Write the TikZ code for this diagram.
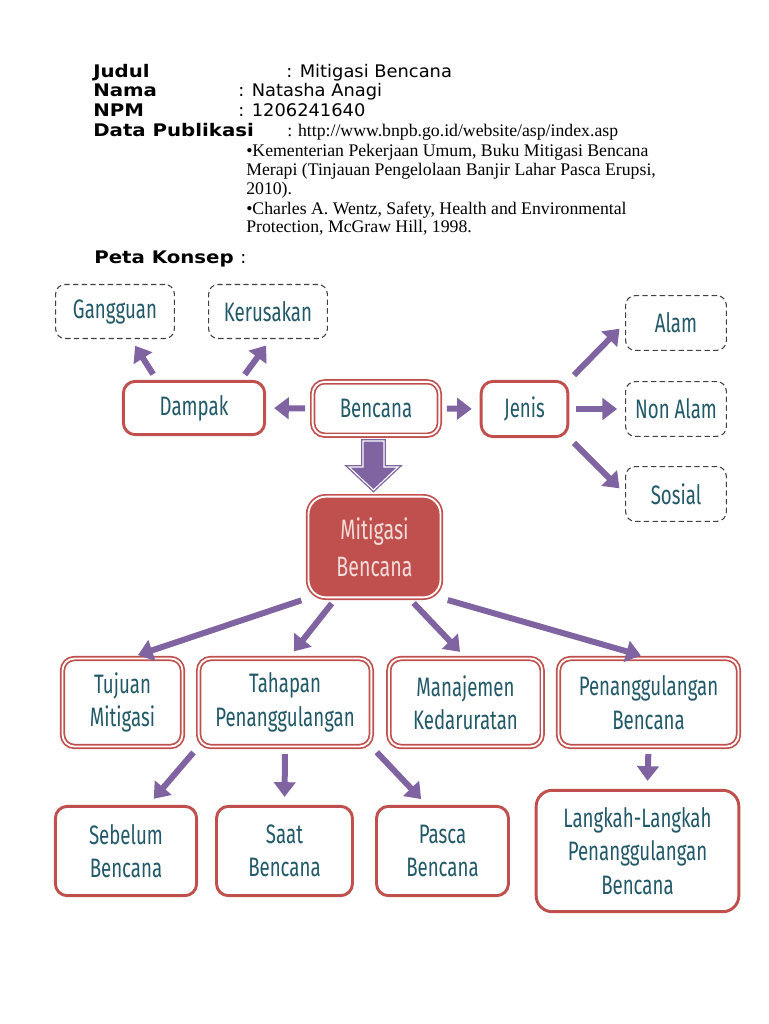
\documentclass[tikz,border=0pt]{standalone}
\usepackage{fontspec}
\setmainfont{Liberation Serif}
\newfontfamily\headfont[FakeStretch=1.03, BoldFeatures={FakeStretch=1.14}]{DejaVu Sans}
\newfontfamily\handfont[FakeStretch=0.7]{Fira Sans}
\usetikzlibrary{arrows.meta}
\definecolor{merah}{HTML}{C0504D}
\definecolor{ungu}{HTML}{8064A2}
\definecolor{teks}{HTML}{215968}
\definecolor{pinkteks}{HTML}{F2DCDB}
\tikzset{
  kotak/.style={draw=merah, line width=2.2pt, rounded corners=9pt, fill=white,
    align=center, inner sep=0pt, text=teks,
    font=\handfont\fontsize{20}{25}\selectfont},
  kotakganda/.style={kotak, line width=1.3pt, double=white, double distance=1.4pt},
  putus/.style={draw=black!75, dash pattern=on 4pt off 2.5pt, line width=0.8pt,
    rounded corners=7pt, align=center, inner sep=0pt, text=teks,
    font=\handfont\fontsize{20}{25}\selectfont},
  panah/.style={ungu, line width=4.5pt, -{Triangle[length=11pt,width=16pt]},
    shorten <=5pt, shorten >=6pt},
  blok/.style={fill=ungu, draw=ungu, line width=1pt, double=white, double distance=0.8pt},
  kepala/.style={anchor=base west, inner sep=0pt, font=\headfont\fontsize{13}{15}\selectfont},
  pustaka/.style={anchor=base west, inner sep=0pt, font=\fontsize{13.3}{14.25}\selectfont}
}

\begin{document}
\begin{tikzpicture}[x=0.75pt,y=-0.75pt]
\fill[white] (0,0) rectangle (768,1024);
\useasboundingbox (0,0) rectangle (768,1024);
% keterangan
\node[kepala] (judul) at (93,77.7) {\bfseries Judul};
\node[kepala] (judulisi) at (286,77.7) {: Mitigasi Bencana};
\node[kepala] (nama) at (93,96.7) {\bfseries Nama};
\node[kepala] (namaisi) at (238,96.7) {: Natasha Anagi};
\node[kepala] (npm) at (93,116) {\bfseries NPM};
\node[kepala] (npmisi) at (238,116) {: 1206241640};
\node[kepala] (data) at (93,136) {\bfseries Data Publikasi};
\node[pustaka] (dataisi) at (287,136.7) {: http://www.bnpb.go.id/website/asp/index.asp};
\node[pustaka] (pus1) at (246,156) {•Kementerian Pekerjaan Umum, Buku Mitigasi Bencana};
\node[pustaka] (pus2) at (246,175) {Merapi (Tinjauan Pengelolaan Banjir Lahar Pasca Erupsi,};
\node[pustaka] (pus3) at (246,194) {2010).};
\node[pustaka] (pus4) at (246,214) {•Charles A. Wentz, Safety, Health and Environmental};
\node[pustaka] (pus5) at (246,232.7) {Protection, McGraw Hill, 1998.};
\node[kepala] (peta) at (94,263.3) {\bfseries Peta Konsep};
\node[kepala] (petaisi) at (240,263.3) {:};
%
% baris atas
\node[putus, minimum width=89pt, minimum height=40.5pt] (gangguan) at (115,311.5) {Gangguan};
\node[putus, minimum width=89pt, minimum height=40.5pt] (kerusakan) at (268,311.5) {Kerusakan};
\node[kotak, minimum width=106pt, minimum height=40pt] (dampak) at (194,408) {Dampak};
\node[kotakganda, minimum width=95pt, minimum height=40pt] (bencana) at (376,408.5) {Bencana};
\node[kotak, minimum width=65pt, minimum height=41.5pt] (jenis) at (524.5,409) {Jenis};
\node[putus, minimum width=75.5pt, minimum height=41pt] (alam) at (676,323) {Alam};
\node[putus, minimum width=75.5pt, minimum height=41pt] (nonalam) at (676,409) {Non Alam};
\node[putus, minimum width=75.5pt, minimum height=41pt] (sosial) at (676,494) {Sosial};
%
\node[kotakganda, fill=merah, text=pinkteks, rounded corners=13pt,
  font=\handfont\fontsize{21}{28}\selectfont,
  minimum width=99pt, minimum height=75.5pt] (mitigasi) at (374.5,547) {Mitigasi\\Bencana};
%
% baris tengah
\node[kotakganda, minimum width=90pt, minimum height=66pt] (tujuan) at (122.5,702.5) {Tujuan\\Mitigasi};
\node[kotakganda, minimum width=129.5pt, minimum height=66pt] (tahapan) at (285,702.5) {Tahapan\\Penanggulangan};
\node[kotakganda, minimum width=115pt, minimum height=66pt] (manajemen) at (465.5,702.5) {Manajemen\\Kedaruratan};
\node[kotakganda, minimum width=135pt, minimum height=66pt] (penang) at (648.5,702.5) {Penanggulangan\\Bencana};
%
% baris bawah
\node[kotak, minimum width=106pt, minimum height=67pt] (sebelum) at (126,851) {Sebelum\\Bencana};
\node[kotak, minimum width=102pt, minimum height=67pt] (saat) at (284.5,851) {Saat\\Bencana};
\node[kotak, minimum width=99pt, minimum height=67pt] (pasca) at (442.5,851) {Pasca\\Bencana};
\node[kotak, minimum width=152pt, minimum height=91pt, rounded corners=12pt] (langkah) at (637.5,851) {Langkah-Langkah\\Penanggulangan\\Bencana};
%
% panah
\draw[panah] (dampak.143) -- (gangguan.-60);
\draw[panah] (dampak.31) -- (kerusakan.-84);
\draw[panah] (bencana.west) -- (dampak.east);
\draw[panah] (bencana.east) -- (jenis.west);
\draw[panah] (jenis.north east) -- (alam.west);
\draw[panah] (jenis.east) -- (nonalam.west);
\draw[panah] (jenis.south east) -- (sosial.west);
\draw[blok] (363,441) -- (384,441) -- (384,467) -- (398,467) -- (373.5,490)
  -- (349,467) -- (363,467) -- cycle;
\draw[panah] (mitigasi.south west) -- (tujuan.80);
\draw[panah] (mitigasi.233) -- (tahapan.85);
\draw[panah] (mitigasi.-56) -- (manajemen.north);
\draw[panah] (mitigasi.south east) -- (penang.north);
\draw[panah] (tahapan.south west) -- (sebelum.64);
\draw[panah] (tahapan.south) -- (saat.north);
\draw[panah] (tahapan.south east) -- (pasca.109);
\draw[panah] (penang.south) -- (langkah.81);
\end{tikzpicture}
\end{document}
